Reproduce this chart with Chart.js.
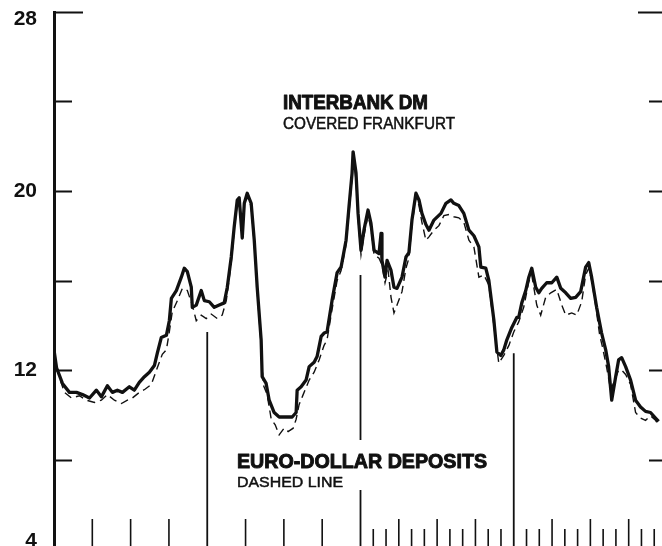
<!DOCTYPE html>
<html>
<head>
<meta charset="utf-8">
<script src="https://cdn.jsdelivr.net/npm/chart.js@4/dist/chart.umd.min.js"></script>
<style>
    html, body { margin: 0; padding: 0; background: #fff; overflow: hidden; }
    #wrap { width: 662px; height: 546px; overflow: hidden; }
    canvas { display: block; }
</style>
</head>
<body>
<div id="wrap">
    <canvas id="rateChart" width="680" height="560"></canvas>
</div>
<script>
// months since start of the period shown (4 years, 48 months)
const interbankMonths = [
    0, 0.2, 0.66, 1.21, 1.76, 2.23, 2.78, 3.32, 3.71, 4.18,
    4.57, 4.96, 5.36, 5.9, 6.29, 6.68, 7.08, 7.47, 7.86, 8.09,
    8.4, 8.8, 9.03, 9.19, 9.58, 9.97, 10.2, 10.44, 10.75, 10.83,
    11.14, 11.53, 11.77, 12.16, 12.55, 12.94, 13.33, 13.57, 13.88, 14.11,
    14.35, 14.5, 14.74, 14.9, 15.13, 15.44, 15.68, 15.91, 16.22, 16.3,
    16.61, 16.85, 17.24, 17.63, 18.18, 18.65, 18.96, 19.04, 19.35, 19.74,
    19.98, 20.37, 20.6, 20.92, 21.15, 21.38, 21.77, 22.17, 22.48, 22.87,
    23.1, 23.34, 23.42, 23.65, 23.81, 24.04, 24.27, 24.59, 24.82, 25.06,
    25.45, 25.61, 25.68, 25.92, 26.08, 26.39, 26.62, 26.86, 27.25, 27.56,
    27.79, 28.03, 28.34, 28.58, 28.81, 29.12, 29.36, 29.75, 30.3, 30.69,
    31.08, 31.31, 31.7, 32.09, 32.49, 32.88, 33.27, 33.42, 33.81, 34.05,
    34.44, 34.68, 34.99, 35.22, 35.46, 35.85, 36.24, 36.39, 36.63, 36.94,
    37.18, 37.41, 37.72, 37.96, 38.19, 38.58, 38.98, 39.37, 39.68, 40.07,
    40.46, 40.85, 41.24, 41.63, 41.87, 42.1, 42.49, 42.88, 43.2, 43.43,
    43.67, 43.98, 44.21, 44.45, 44.76, 45.15, 45.54, 45.93, 46.32, 46.71,
    47.1, 47.34
];

// Interbank DM, covered Frankfurt (solid line), percent
const interbankRates = [
    12.9, 12.1, 11.4, 11.0, 11.0, 10.9, 10.75, 11.1, 10.8, 11.3,
    11.0, 11.1, 11.0, 11.25, 11.1, 11.45, 11.7, 11.9, 12.2, 12.75,
    13.45, 13.55, 14.2, 15.2, 15.55, 16.15, 16.55, 16.4, 15.7, 14.8,
    14.9, 15.55, 15.1, 15.05, 14.8, 14.9, 15.0, 15.7, 17.05, 18.4,
    19.6, 19.7, 17.9, 19.45, 19.9, 19.45, 17.8, 15.7, 13.35, 11.7,
    11.4, 10.65, 10.1, 9.9, 9.9, 9.9, 10.1, 11.1, 11.25, 11.55,
    12.15, 12.35, 12.6, 13.5, 13.65, 13.7, 15.1, 16.35, 16.6, 17.8,
    19.3, 20.8, 21.75, 20.8, 19.0, 17.35, 18.25, 19.15, 18.55, 17.35,
    17.2, 18.1, 16.9, 16.15, 16.9, 16.45, 15.7, 15.65, 16.15, 17.05,
    17.25, 18.7, 19.9, 19.6, 19.0, 18.5, 18.25, 18.7, 19.0, 19.45,
    19.6, 19.45, 19.35, 19.0, 18.25, 18.0, 17.5, 16.6, 16.55, 16.0,
    14.25, 12.8, 12.65, 12.9, 13.35, 13.9, 14.35, 14.35, 15.0, 15.55,
    16.15, 16.55, 15.7, 15.45, 15.65, 15.9, 15.9, 16.15, 15.65, 15.45,
    15.2, 15.25, 15.5, 16.6, 16.8, 16.15, 14.8, 13.65, 12.9, 12.15,
    10.65, 11.7, 12.45, 12.55, 12.15, 11.55, 10.65, 10.35, 10.15, 10.1,
    9.85, 9.7
];

const euroMonths = [
    0, 0.43, 0.82, 1.37, 1.99, 2.54, 3.17, 3.71, 4.18, 4.73,
    5.28, 5.75, 6.14, 6.68, 7.15, 7.62, 8.09, 8.48, 8.8, 9.03,
    9.26, 9.66, 10.05, 10.44, 10.83, 11.14, 11.53, 11.92, 12.31, 12.78,
    13.17, 13.49, 13.88, 14.11, 14.35, 14.5, 14.74, 14.9, 15.13, 15.44,
    15.68, 15.91, 16.22, 16.38, 16.69, 17.01, 17.32, 17.63, 18.02, 18.33,
    18.73, 18.96, 19.19, 19.51, 19.98, 20.37, 20.76, 21.15, 21.38, 21.77,
    22.17, 22.48, 22.87, 23.1, 23.34, 23.42, 23.65, 23.81, 24.04, 24.27,
    24.59, 24.82, 25.06, 25.45, 25.68, 25.92, 26.16, 26.39, 26.62, 26.86,
    27.25, 27.56, 27.79, 28.03, 28.34, 28.58, 28.81, 29.12, 29.36, 29.75,
    30.14, 30.53, 30.93, 31.31, 31.7, 32.09, 32.49, 32.88, 33.27, 33.66,
    34.05, 34.44, 34.83, 35.22, 35.62, 36.0, 36.39, 36.78, 37.18, 37.41,
    37.8, 38.11, 38.5, 38.9, 39.37, 39.76, 40.07, 40.54, 40.93, 41.32,
    41.63, 41.87, 42.1, 42.41, 42.73, 42.96, 43.28, 43.59, 43.98, 44.21,
    44.45, 44.76, 45.15, 45.54, 45.93, 46.32, 46.71, 47.1, 47.34
];

// Euro-dollar deposits (dashed line), percent
const euroRates = [
    12.65, 11.65, 11.0, 10.75, 10.85, 10.65, 10.55, 10.65, 10.9, 10.65,
    10.5, 10.65, 10.75, 11.0, 11.15, 11.35, 12.1, 12.7, 12.9, 13.7,
    14.6, 15.1, 15.65, 15.55, 14.9, 14.2, 14.45, 14.3, 14.5, 14.3,
    14.45, 15.1, 16.8, 18.25, 19.45, 19.6, 18.15, 19.4, 19.75, 19.3,
    17.65, 15.55, 13.1, 11.35, 10.9, 9.8, 9.55, 9.1, 9.4, 9.25,
    9.4, 9.8, 10.45, 10.9, 11.55, 11.9, 12.45, 13.1, 13.35, 14.7,
    16.0, 16.45, 17.6, 19.05, 20.6, 21.5, 20.5, 18.8, 17.15, 18.0,
    18.9, 18.35, 17.15, 17.0, 16.7, 15.9, 16.45, 15.25, 14.55, 14.9,
    15.5, 16.55, 17.0, 18.5, 19.7, 19.35, 18.6, 17.8, 17.95, 18.25,
    18.45, 18.9, 18.95, 18.85, 18.8, 18.6, 17.8, 17.5, 16.15, 16.25,
    15.8, 14.0, 12.3, 12.65, 13.1, 13.7, 14.15, 14.8, 15.95, 16.25,
    14.9, 14.45, 15.25, 15.45, 15.6, 14.9, 14.45, 14.55, 14.45, 15.05,
    16.25, 16.55, 16.0, 14.9, 13.55, 13.0, 12.1, 11.1, 11.65, 12.0,
    12.0, 11.8, 11.35, 10.1, 9.85, 9.75, 9.95, 9.75, 9.55
];

// year boundaries: vertical rules drawn from the axis up to just under the curves
const yearMonths = [12, 24, 36];
const yearRuleTops = [13.7, 16.25, 12.75];

// bottom axis ticks
const quarterTicks = [3, 6, 9, 15, 18, 21, 27, 30, 33, 39, 42, 45];
const monthTicks = [25, 26, 28, 29, 31, 32, 34, 35, 37, 38, 40, 41, 43, 44, 46, 47];

// left axis
const yMin = 4;
const yMax = 28;
const yStep = 4;
const yLabelled = [4, 12, 20, 28];

const ink = "#111";
const font = "'Liberation Sans', Arial, sans-serif";

function toPoints(xs, ys) {
    return xs.map((x, i) => ({ x: x, y: ys[i] }));
}

const rulePoints = [];
yearMonths.forEach((m, i) => {
    rulePoints.push(
        { x: m, y: yMin },
        { x: m, y: yearRuleTops[i] },
        { x: m, y: null }
    );
});

// text squeezed to a given width, like the condensed lettering of the original
function fitText(ctx, text, x, base, width, f, heavy) {
    ctx.font = f;
    const w = ctx.measureText(text).width;
    ctx.save();
    ctx.translate(x, base);
    ctx.scale(width / w, 1);
    ctx.fillText(text, 0, 0);
    if (heavy) {
        ctx.lineWidth = heavy;
        ctx.strokeText(text, 0, 0);
    }
    ctx.restore();
}

const notes = {
    id: "notes",
    afterDatasetsDraw(c) {
        const ctx = c.ctx;
        ctx.save();
        // the euro-dollar label sits on a white patch that breaks the rule behind it
        ctx.fillStyle = "#fff";
        ctx.fillRect(232, 440, 262, 50);
        ctx.fillStyle = ink;
        ctx.strokeStyle = ink;
        ctx.lineJoin = "round";
        ctx.textBaseline = "alphabetic";
        fitText(ctx, "INTERBANK DM", 283, 109, 145, "bold 21px " + font, 1);
        fitText(ctx, "COVERED FRANKFURT", 283, 129, 172, "16px " + font, 0.5);
        fitText(ctx, "EURO-DOLLAR DEPOSITS", 237, 468, 250, "bold 21px " + font, 1);
        fitText(ctx, "DASHED LINE", 237, 487, 106, "15px " + font, 0.5);
        ctx.restore();
    }
};

// short tick marks pointing into the plot
const innerTicks = {
    id: "innerTicks",
    afterDatasetsDraw(c) {
        const { ctx, chartArea: a, scales: { x, y } } = c;
        ctx.save();
        ctx.strokeStyle = ink;
        ctx.lineCap = "butt";
        ctx.lineWidth = 2.2;
        ctx.beginPath();
        y.ticks.forEach(t => {
            const py = Math.round(y.getPixelForValue(t.value)) + 0.5;
            const len = t.value === yMax ? 29 : 18;
            ctx.moveTo(a.left, py);
            ctx.lineTo(a.left + len, py);
            ctx.moveTo(a.right, py);
            ctx.lineTo(a.right - len, py);
        });
        ctx.stroke();
        ctx.lineWidth = 1.6;
        ctx.beginPath();
        quarterTicks.forEach(m => {
            const px = x.getPixelForValue(m);
            ctx.moveTo(px, a.bottom);
            ctx.lineTo(px, a.bottom - 30);
        });
        monthTicks.forEach(m => {
            const px = x.getPixelForValue(m);
            ctx.moveTo(px, a.bottom);
            ctx.lineTo(px, a.bottom - 20);
        });
        ctx.stroke();
        ctx.restore();
    }
};

let chart;

function drawChart() {
    if (chart)
        chart.destroy();

    chart = new Chart(
        document.getElementById("rateChart"),
        {
            type: "line",
            data: {
                datasets: [
                    {
                        label: "Interbank DM, covered Frankfurt",
                        data: toPoints(interbankMonths, interbankRates),
                        borderColor: ink,
                        borderWidth: 3.3,
                        pointRadius: 0,
                        tension: 0,
                        borderJoinStyle: "round",
                        order: 1
                    },
                    {
                        label: "Euro-dollar deposits",
                        data: toPoints(euroMonths, euroRates),
                        borderColor: ink,
                        borderWidth: 1.4,
                        borderDash: [8, 5],
                        pointRadius: 0,
                        tension: 0,
                        order: 2
                    },
                    {
                        label: "Year rules",
                        data: rulePoints,
                        borderColor: ink,
                        borderWidth: 1.8,
                        pointRadius: 0,
                        spanGaps: false,
                        order: 3
                    }
                ]
            },
            options: {
                responsive: false,
                animation: false,
                devicePixelRatio: 1,
                layout: {
                    padding: { top: 12, right: 13, bottom: 11, left: 0 }
                },
                plugins: {
                    legend: { display: false },
                    tooltip: { enabled: false }
                },
                scales: {
                    x: {
                        type: "linear",
                        min: 0,
                        max: 48,
                        display: false
                    },
                    y: {
                        type: "linear",
                        min: yMin,
                        max: yMax,
                        grid: { display: false, drawTicks: false },
                        border: { display: true, color: ink, width: 3 },
                        ticks: {
                            stepSize: yStep,
                            padding: 17,
                            color: ink,
                            font: { family: font, size: 21, weight: "bold", lineHeight: 0.72 },
                            callback: v => {
                                if (!yLabelled.includes(v)) return "";
                                if (v === yMax) return ["", String(v)];
                                if (v === yMin) return [String(v), ""];
                                return String(v);
                            }
                        },
                        afterFit: s => {
                            s.width = 54;
                            s.paddingTop = 0;
                            s.paddingBottom = 0;
                        }
                    }
                }
            },
            plugins: [innerTicks, notes]
        }
    );
}

drawChart();
</script>
</body>
</html>
